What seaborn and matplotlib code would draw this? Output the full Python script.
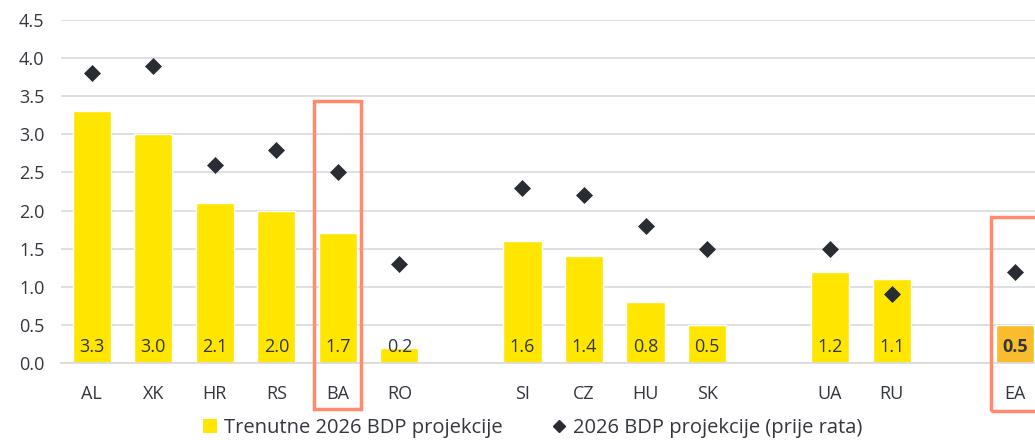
import numpy as np
import pandas as pd
import matplotlib
matplotlib.use("Agg")
import matplotlib.pyplot as plt
from matplotlib.patches import Rectangle
from matplotlib.lines import Line2D
import seaborn as sns

# Countries, grouped with blank slots between the groups
countries = ["AL", "XK", "HR", "RS", "BA", "RO", "SI", "CZ", "HU", "SK", "UA", "RU", "EA"]
slots = [0, 1, 2, 3, 4, 5, 7, 8, 9, 10, 12, 13, 15]
current_2026 = [3.3, 3.0, 2.1, 2.0, 1.7, 0.2, 1.6, 1.4, 0.8, 0.5, 1.2, 1.1, 0.5]
prewar_2026 = [3.8, 3.9, 2.6, 2.8, 2.5, 1.3, 2.3, 2.2, 1.8, 1.5, 1.5, 0.9, 1.2]
y_ticks = [0.0, 0.5, 1.0, 1.5, 2.0, 2.5, 3.0, 3.5, 4.0, 4.5]
legend_labels = ["Trenutne 2026 BDP projekcije", "2026 BDP projekcije (prije rata)"]

YELLOW = "#FFE600"
EA_ORANGE = "#F8BC2C"
DARK = "#2A2C33"
TEXT = "#33363D"
GRID = "#D8D9DE"
BOX = "#FF8A6E"

sns.set_theme(style="white")
plt.rcParams["font.family"] = ["Open Sans", "DejaVu Sans"]

df = pd.DataFrame({
    "country": countries,
    "slot": slots,
    "current": current_2026,
    "prewar": prewar_2026,
})
palette = {c: (EA_ORANGE if c == "EA" else YELLOW) for c in countries}

fig = plt.figure(figsize=(10.35, 4.4), dpi=100)
ax = fig.add_axes([61 / 1035, 77 / 440, (1035 - 61) / 1035, (363 - 20) / 440])

sns.barplot(data=df, x="slot", y="current", hue="country", palette=palette,
            native_scale=True, width=0.62, dodge=False, legend=False,
            saturation=1, ax=ax, zorder=2)
sns.scatterplot(data=df, x="slot", y="prewar", marker="D", s=75,
                color=DARK, edgecolor=DARK, linewidth=0, ax=ax, zorder=3)

# Value labels near the base of each bar
for c, x, v in zip(countries, slots, current_2026):
    ax.text(x, 0.21, f"{v:.1f}", ha="center", va="center", fontsize=13,
            color=TEXT, fontweight="bold" if c == "EA" else "normal", zorder=4)

ax.set_yticks(y_ticks)
ax.set_yticklabels([f"{t:.1f}" for t in y_ticks], fontsize=13, color=TEXT)
ax.yaxis.grid(True, color=GRID, linewidth=1.2, zorder=0)
ax.set_axisbelow(True)

ax.set_xticks(slots)
ax.set_xticklabels(countries, fontsize=13, color=TEXT)
ax.tick_params(axis="x", which="major", length=0, pad=15.5)
ax.set_xticks(np.arange(-0.5, 16, 1.0), minor=True)
ax.tick_params(axis="x", which="minor", length=6, width=1, color=GRID, direction="out")
ax.tick_params(axis="y", length=0, pad=12)
ax.set_xlabel("")
ax.set_ylabel("")

# Limits go last so the tick placement does not widen them
ax.set_xlim(-0.5, 15.33)
ax.set_ylim(0, 4.5)

for s in ["top", "right", "left"]:
    ax.spines[s].set_visible(False)
ax.spines["bottom"].set_color(GRID)
ax.spines["bottom"].set_linewidth(1.2)

# Outline boxes around the highlighted categories
for c, bottom, top in [("BA", -0.61, 3.44), ("EA", -0.63, 1.92)]:
    x = slots[countries.index(c)]
    rect = Rectangle((x - 0.38, bottom), 0.76, top - bottom, fill=False,
                     edgecolor=BOX, linewidth=2.5, clip_on=False, zorder=5)
    ax.add_patch(rect)

handles = [
    Rectangle((0, 0), 1, 1, facecolor=YELLOW, edgecolor="none"),
    Line2D([0], [0], marker="D", linestyle="none", markersize=6,
           markerfacecolor=DARK, markeredgecolor=DARK),
]
fig.legend(handles, legend_labels, loc="center left",
           bbox_to_anchor=(185 / 1035, 1 - 428 / 440),
           ncol=2, frameon=False, fontsize=14.5, labelcolor=TEXT,
           handlelength=0.7, handleheight=0.7, handletextpad=0.35, columnspacing=2.45)

fig.savefig("out.png", dpi=100)
